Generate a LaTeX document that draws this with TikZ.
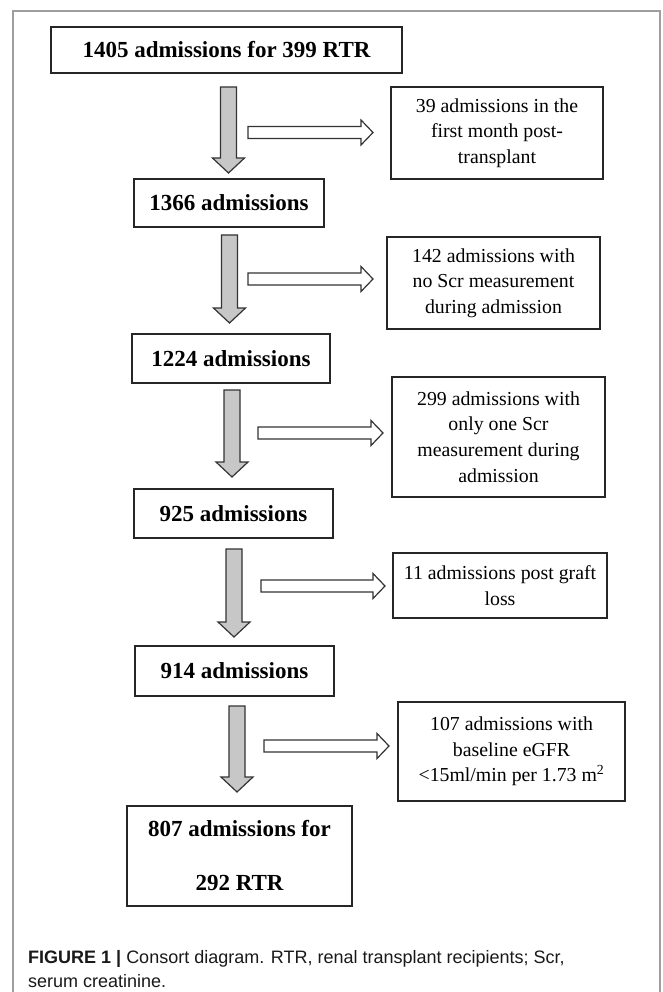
\documentclass[tikz,border=0pt]{standalone}
\usepackage{fontspec}
\setmainfont{Liberation Serif}
\newfontfamily\capfont{Liberation Sans}
\usetikzlibrary{calc}
\begin{document}
\begin{tikzpicture}[x=1pt,y=-1pt,
  frameline/.style={draw=black!38, line width=1.5pt},
  boxbase/.style={draw=black!85, line width=1.2pt, inner sep=0pt, align=center, fill=white},
  mainbox/.style={boxbase, font=\fontsize{23}{27}\selectfont\bfseries},
  sidebox/.style={boxbase, font=\fontsize{19.8}{25.7}\selectfont},
  downblock/.style={draw=black!80, line width=1.2pt, fill=black!22, line join=miter,
    to path={let \p1=(\tikztostart), \p2=(\tikztotarget) in
      (\x1-8pt,\y1) -- (\x1+8pt,\y1) -- (\x1+8pt,\y2+15pt) -- (\x1+16pt,\y2+15pt)
      -- (\x1,\y2) -- (\x1-16pt,\y2+15pt) -- (\x1-8pt,\y2+15pt) -- cycle}},
  rightblock/.style={draw=black!80, line width=1.2pt, fill=white, line join=miter,
    to path={let \p1=(\tikztostart), \p2=(\tikztotarget) in
      (\x1,\y1-6pt) -- (\x2-12pt,\y1-6pt) -- (\x2-12pt,\y1-12.5pt) -- (\x2,\y1)
      -- (\x2-12pt,\y1+12.5pt) -- (\x2-12pt,\y1+6pt) -- (\x1,\y1+6pt) -- cycle}},
  captext/.style={anchor=base west, inner sep=0pt, font=\capfont\fontsize{18}{22}\selectfont, text=black!90}
]
\useasboundingbox (0,0) rectangle (663,992);
\fill[white] (0,0) rectangle (663,992);
% outer frame
\draw[frameline] (13,992) -- (13,11) -- (660,11) -- (660,992);

% main boxes
\node[mainbox, minimum width=351pt, minimum height=46pt] (n1405) at (226.5,50) {1405 admissions for 399 RTR};
\node[mainbox, minimum width=190pt, minimum height=48pt] (n1366) at (229,203) {1366 admissions};
\node[mainbox, minimum width=198pt, minimum height=49pt] (n1224) at (231,358.5) {1224 admissions};
\node[mainbox, minimum width=199pt, minimum height=49pt] (n925) at (233.5,513.5) {925 admissions};
\node[mainbox, minimum width=199pt, minimum height=50pt] (n914) at (234.5,671) {914 admissions};
\node[mainbox, minimum width=225pt, minimum height=100pt] (n807) at (239.5,856) {807 admissions for\\[27pt]292 RTR};

% side boxes
\node[sidebox, minimum width=212pt, minimum height=92pt] (e39) at (497,133) {39 admissions in the\\first month post-\\transplant};
\node[sidebox, minimum width=213pt, minimum height=92pt] (e142) at (493.5,283) {142 admissions with\\no Scr measurement\\during admission};
\node[sidebox, minimum width=213pt, minimum height=120pt] (e299) at (498.5,437) {299 admissions with\\only one Scr\\measurement during\\admission};
\node[sidebox, minimum width=214pt, minimum height=65pt] (e11) at (500,585.5) {11 admissions post graft\\loss};
\node[sidebox, minimum width=227pt, minimum height=99pt] (e107) at (511.5,751.5) {107 admissions with\\baseline eGFR\\<15ml/min per 1.73 m\textsuperscript{2}};

% arrow end points
\coordinate (d1s) at (228.5,87);  \coordinate (d1e) at (228.5,173);
\coordinate (d2s) at (229.5,235); \coordinate (d2e) at (229.5,323);
\coordinate (d3s) at (232,390);   \coordinate (d3e) at (232,477);
\coordinate (d4s) at (234,549);   \coordinate (d4e) at (234,637);
\coordinate (d5s) at (237,706);   \coordinate (d5e) at (237,792);

\coordinate (r1s) at (248,132.5); \coordinate (r1e) at (373,132.5);
\coordinate (r2s) at (248,279);   \coordinate (r2e) at (373,279);
\coordinate (r3s) at (258,433);   \coordinate (r3e) at (383,433);
\coordinate (r4s) at (261,586);   \coordinate (r4e) at (385,586);
\coordinate (r5s) at (264,746);   \coordinate (r5e) at (389,746);

\foreach \i in {1,...,5} {
  \draw[downblock] (d\i s) to (d\i e);
  \draw[rightblock] (r\i s) to (r\i e);
}

% caption
\node[captext] (capA) at (28,963) {\bfseries FIGURE 1 |\mdseries\ Consort diagram. RTR, renal transplant recipients; Scr,};
\node[captext] (capB) at (28,987) {serum creatinine.};
\end{tikzpicture}
\end{document}
